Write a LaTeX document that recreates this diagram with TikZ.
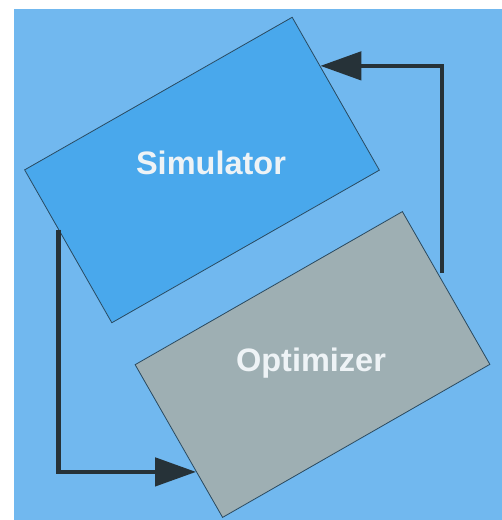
\documentclass[tikz,border=0pt]{standalone}
\usepackage{fontspec}
\setmainfont{Liberation Sans}
\usetikzlibrary{arrows.meta,calc}
\definecolor{bgblue}{HTML}{71B8EF}
\definecolor{simblue}{HTML}{49A8EC}
\definecolor{optgray}{HTML}{9EAFB3}
\definecolor{arrowdark}{HTML}{263238}
\definecolor{edgedark}{HTML}{2A4A60}
\definecolor{labelwhite}{HTML}{EEF3F6}
\tikzset{
  box/.style={draw=edgedark, line width=0.8pt, rectangle, inner sep=0pt,
    minimum width=308pt, minimum height=176pt},
  boxlabel/.style={text=labelwhite, font=\bfseries\fontsize{32.5}{34}\selectfont, anchor=base, inner sep=0pt},
  flow/.style={draw=arrowdark, line width=4.6pt, line cap=butt,
    -{Triangle[length=41pt, width=28pt]}}
}
\begin{document}
\begin{tikzpicture}[x=1pt, y=-1pt]
\useasboundingbox (0,0) rectangle (502,520);
\fill[white] (0,0) rectangle (502,520);
\fill[bgblue] (14,9) rectangle (502,520);
\node[box, fill=simblue, rotate=29.7] (sim) at (202,170) {};
\node[box, fill=optgray, rotate=29.8] (opt) at (312.5,364.5) {};
\node[boxlabel] (simlabel) at (211,174.3) {Simulator};
\node[boxlabel] (optlabel) at (311,371) {Optimizer};
\coordinate (fbstart) at (442,273);
\coordinate (fbend) at ($(sim.north east)!0.32!(sim.south east)$);
\coordinate (fwstart) at ($(sim.north west)!0.39!(sim.south west)$);
\coordinate (fwend) at ($(opt.north west)!0.70!(opt.south west)$);
\draw[flow] (fbstart) |- (fbend);
\draw[flow] (fwstart) |- (fwend);
\end{tikzpicture}
\end{document}
